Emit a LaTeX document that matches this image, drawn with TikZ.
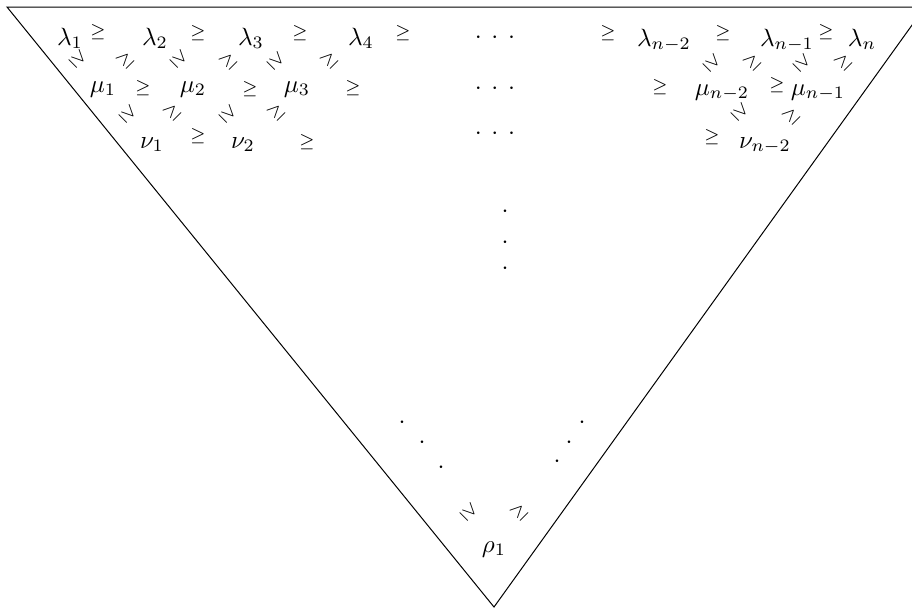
\documentclass[tikz,border=0pt]{standalone}
\usepackage{amsmath,amssymb}
\tikzset{
  entry/.style={anchor=base, inner sep=0pt},
  rel/.style={font=\scriptsize, inner sep=0pt},
  relsw/.style={rel, rotate=-45},
  relne/.style={rel, rotate=45},
  dotnode/.style={inner sep=0pt},
}
\newcommand{\rowdots}{${\cdot}\mkern7mu{\cdot}\mkern7mu{\cdot}$}
\begin{document}
\begin{tikzpicture}[x=0.4pt,y=-0.4pt]
    \useasboundingbox (0,0) rectangle (912,609);
    % the triangle
    \coordinate (TL) at (7,7);
    \coordinate (TR) at (925,7);
    \coordinate (B) at (494,607);
    \draw (TL) -- (TR) -- (B) -- cycle;

    % first row
    \node[entry] (l1) at (70,45) {$\lambda_1$};
    \node[rel] (g11) at (98,32) {$\geq$};
    \node[entry] (l2) at (155,45) {$\lambda_2$};
    \node[rel] (g12) at (198,33) {$\geq$};
    \node[entry] (l3) at (251,45) {$\lambda_3$};
    \node[rel] (g13) at (300,33) {$\geq$};
    \node[entry] (l4) at (361,45) {$\lambda_4$};
    \node[rel] (g14) at (403,33) {$\geq$};
    \node[dotnode] (d1) at (495,38) {\rowdots};
    \node[rel] (g15) at (608,33) {$\geq$};
    \node[entry] (lnb) at (664,46) {$\lambda_{n-2}$};
    \node[rel] (g16) at (723,33) {$\geq$};
    \node[entry] (lna) at (787,46) {$\lambda_{n-1}$};
    \node[rel] (g17) at (826,32) {$\geq$};
    \node[entry] (ln) at (862,46) {$\lambda_n$};

    % between first and second row
    \node[relsw] (s11) at (78,59) {$\geq$};
    \node[relne] (s12) at (125,60) {$\geq$};
    \node[relsw] (s13) at (179,59) {$\geq$};
    \node[relne] (s14) at (228,61) {$\geq$};
    \node[relsw] (s15) at (276,61) {$\geq$};
    \node[relne] (s16) at (329,60) {$\geq$};
    \node[relsw] (s17) at (712,63) {$\geq$};
    \node[relne] (s18) at (752,62) {$\geq$};
    \node[relsw] (s19) at (802,63) {$\geq$};
    \node[relne] (s110) at (843,62) {$\geq$};

    % second row
    \node[entry] (m1) at (103,92) {$\mu_1$};
    \node[rel] (g21) at (143,88) {$\geq$};
    \node[entry] (m2) at (193,92) {$\mu_2$};
    \node[rel] (g22) at (250,89) {$\geq$};
    \node[entry] (m3) at (297,92) {$\mu_3$};
    \node[rel] (g23) at (353,88) {$\geq$};
    \node[dotnode] (d2) at (495,89) {\rowdots};
    \node[rel] (g24) at (660,87) {$\geq$};
    \node[entry] (mnb) at (722,95) {$\mu_{n-2}$};
    \node[rel] (g25) at (777,85) {$\geq$};
    \node[entry] (mna) at (818,95) {$\mu_{n-1}$};

    % between second and third row
    \node[relsw] (s21) at (128,114) {$\geq$};
    \node[relne] (s22) at (172,112) {$\geq$};
    \node[relsw] (s23) at (228,114) {$\geq$};
    \node[relne] (s24) at (276,112) {$\geq$};
    \node[relsw] (s25) at (740,112) {$\geq$};
    \node[relne] (s26) at (791,116) {$\geq$};

    % third row
    \node[entry] (n1) at (152,148) {$\nu_1$};
    \node[rel] (g31) at (198,136) {$\geq$};
    \node[entry] (n2) at (243,148) {$\nu_2$};
    \node[rel] (g32) at (307,142) {$\geq$};
    \node[dotnode] (d3) at (495,134) {\rowdots};
    \node[rel] (g33) at (712,137) {$\geq$};
    \node[entry] (nnb) at (765,148) {$\nu_{n-2}$};

    % dots down the middle and along the sides
    \node[dotnode] (v1) at (505,212) {$\cdot$};
    \node[dotnode] (v2) at (505,243) {$\cdot$};
    \node[dotnode] (v3) at (505,269) {$\cdot$};
    \node[dotnode] (dl1) at (402,423) {$\cdot$};
    \node[dotnode] (dl2) at (422,443) {$\cdot$};
    \node[dotnode] (dl3) at (441,468) {$\cdot$};
    \node[dotnode] (dr1) at (582,423) {$\cdot$};
    \node[dotnode] (dr2) at (569,443) {$\cdot$};
    \node[dotnode] (dr3) at (557,462) {$\cdot$};

    % bottom
    \node[relsw] (sb1) at (469,512) {$\geq$};
    \node[relne] (sb2) at (519,512) {$\geq$};
    \node[entry] (r1) at (494,552) {$\rho_1$};
\end{tikzpicture}
\end{document}
